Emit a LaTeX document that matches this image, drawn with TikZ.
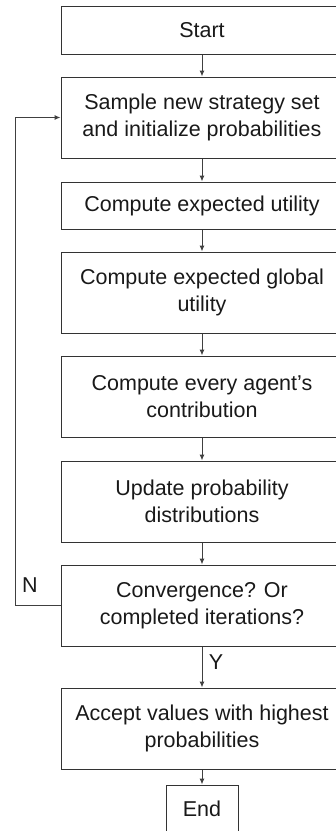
\documentclass[tikz,border=0pt]{standalone}
\usepackage{fontspec}
\setmainfont{Liberation Sans}
\usetikzlibrary{arrows.meta}
\begin{document}
\begin{tikzpicture}[x=1pt,y=1pt,
  box/.style={draw=black!80, line width=1pt, rectangle, minimum width=282pt, inner sep=0pt, align=center, font=\fontsize{21.5}{27.5}\selectfont, text=black!90},
  conn/.style={draw=black!75, line width=1pt, -{Latex[length=6pt,width=5pt]}},
  lbl/.style={font=\fontsize{21.5}{27.5}\selectfont, text=black!90, inner sep=0pt}]
\clip (0,0) rectangle (336,-831);
\useasboundingbox (0,0) rectangle (336,-831);
\node[box, minimum height=48pt] (start) at (202,-30) {Start};
\node[box, minimum height=81pt] (sample) at (202,-117.5) {Sample new strategy set\\and initialize probabilities};
\node[box, minimum height=47pt] (ceu) at (202,-205.5) {Compute expected utility};
\node[box, minimum height=81pt] (ceg) at (202,-292.5) {Compute expected global\\utility};
\node[box, minimum height=81pt] (cea) at (202,-396.5) {Compute every agent’s\\contribution};
\node[box, minimum height=81pt] (upd) at (202,-501.5) {Update probability\\distributions};
\node[box, minimum height=81pt] (conv) at (202,-605.5) {Convergence? Or\\completed iterations?};
\node[box, minimum height=81pt] (acc) at (202,-728.5) {Accept values with highest\\probabilities};
\node[box, minimum width=72pt, minimum height=47pt] (end) at (202,-808.5) {End};
\coordinate (lb) at (15,-605.5);
\coordinate (lt) at (15,-117.5);
\draw[conn] (start) -- (sample);
\draw[conn] (sample) -- (ceu);
\draw[conn] (ceu) -- (ceg);
\draw[conn] (ceg) -- (cea);
\draw[conn] (cea) -- (upd);
\draw[conn] (upd) -- (conv);
\draw[conn] (conv) -- (acc);
\draw[conn] (acc) -- (end);
\draw[conn] (conv.west) -- (lb) -- (lt) -- (sample.west);
\node[lbl] (n) at (30,-585) {N};
\node[lbl] (y) at (216,-662) {Y};
\end{tikzpicture}
\end{document}
